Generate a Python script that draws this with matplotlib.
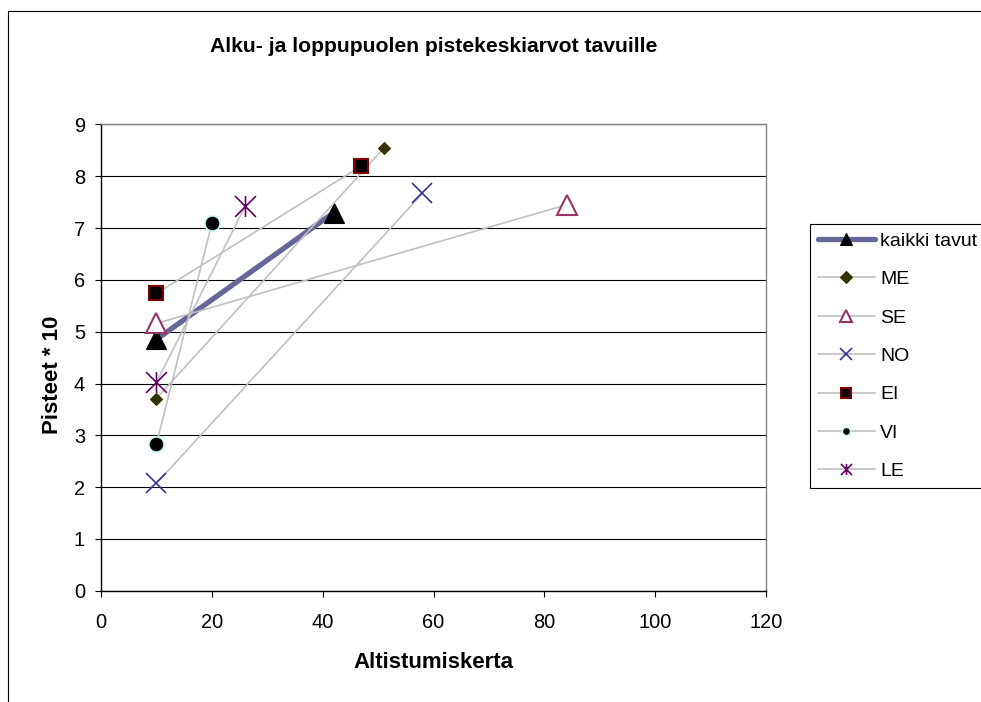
import matplotlib
matplotlib.use("Agg")
import matplotlib.pyplot as plt
from matplotlib.path import Path
from matplotlib.lines import Line2D
from matplotlib.patches import Rectangle

plt.rcParams['font.family'] = ['Liberation Sans', 'DejaVu Sans']

# ---- data ----
series = ["kaikki tavut", "ME", "SE", "NO", "EI", "VI", "LE"]
alku_x = [10, 10, 10, 10, 10, 10, 10]
alku_y = [4.85, 3.71, 5.16, 2.07, 5.74, 2.83, 4.02]
loppu_x = [42, 51, 84, 58, 47, 20, 26]
loppu_y = [7.30, 8.54, 7.45, 7.67, 8.20, 7.09, 7.42]
x_ticks = [0, 20, 40, 60, 80, 100, 120]
y_ticks = [0, 1, 2, 3, 4, 5, 6, 7, 8, 9]

title = "Alku- ja loppupuolen pistekeskiarvot tavuille"
xlabel = "Altistumiskerta"
ylabel = "Pisteet * 10"

# ---- styles ----
star = Path([(0, -1), (0, 1), (-1, -1), (1, 1), (-1, 1), (1, -1)],
            [Path.MOVETO, Path.LINETO, Path.MOVETO, Path.LINETO, Path.MOVETO, Path.LINETO])

styles = [
    dict(color="#666699", lw=3.8, marker="^", ms=15, mfc="black", mec="black", mew=0.8, lms=9),
    dict(color="#C0C0C0", lw=1.2, marker="D", ms=6.2, mfc="#333300", mec="#333300", mew=0.8, lms=6),
    dict(color="#C0C0C0", lw=1.2, marker="^", ms=15, mfc="white", mec="#993366", mew=1.5, lms=8),
    dict(color="#C0C0C0", lw=1.2, marker="x", ms=14, mfc="none", mec="#333399", mew=1.2, lms=8),
    dict(color="#C0C0C0", lw=1.2, marker="s", ms=10.5, mfc="black", mec="#800000", mew=1.5, lms=7),
    dict(color="#C0C0C0", lw=1.2, marker="o", ms=11, mfc="black", mec="#CCFFFF", mew=1.2, lms=6),
    dict(color="#C0C0C0", lw=1.2, marker=star, ms=15, mfc="none", mec="#660066", mew=1.2, lms=8),
]

W, H = 981, 702
fig = plt.figure(figsize=(W / 100, H / 100), dpi=100)
ax = fig.add_axes([101 / W, 1 - 590.7 / H, (766 - 101) / W, (590.7 - 124.5) / H])

handles = []
for i, name in enumerate(series):
    s = styles[i]
    ax.plot([alku_x[i], loppu_x[i]], [alku_y[i], loppu_y[i]], color=s["color"], lw=s["lw"],
            marker=s["marker"], ms=s["ms"], mfc=s["mfc"], mec=s["mec"], mew=s["mew"],
            solid_capstyle="butt", zorder=3 + i, clip_on=False)
    handles.append(Line2D([], [], color=s["color"], lw=s["lw"], marker=s["marker"],
                          ms=s["lms"], mfc=s["mfc"], mec=s["mec"], mew=s["mew"],
                          solid_capstyle="round"))

ax.set_xlim(0, 120)
ax.set_ylim(0, 9)
ax.set_xticks(x_ticks)
ax.set_yticks(y_ticks)
ax.set_xticklabels([str(v) for v in x_ticks])
ax.set_yticklabels([str(v) for v in y_ticks])
ax.tick_params(axis="x", direction="out", length=4, width=0.8, pad=12, labelsize=14.4, colors="black")
ax.tick_params(axis="y", direction="out", length=4.5, width=0.8, pad=7, labelsize=14.4, colors="black")

ax.grid(axis="y", color="black", lw=0.8, zorder=1)
ax.set_axisbelow(True)
for side in ["top", "right"]:
    ax.spines[side].set_color("#808080")
    ax.spines[side].set_linewidth(1.0)
for side in ["left", "bottom"]:
    ax.spines[side].set_color("black")
    ax.spines[side].set_linewidth(1.0)

fig.text(434 / W, 1 - 46 / H, title, ha="center", va="center", fontsize=15.2, fontweight="bold")
fig.text(433 / W, 1 - 662 / H, xlabel, ha="center", va="center", fontsize=16, fontweight="bold")
fig.text(52 / W, 1 - 375 / H, ylabel, ha="center", va="center", rotation=90, fontsize=16, fontweight="bold")

# chart area border (extends past the image on right and bottom)
fig.patches.append(Rectangle((7.5 / W, -0.2), 2.0, (1 - 10.5 / H) + 0.2, transform=fig.transFigure,
                             fill=False, edgecolor="black", lw=0.8))

leg = fig.legend(handles, series, loc="upper left", bbox_to_anchor=(810 / W, 1 - 224 / H),
                 bbox_transform=fig.transFigure, fontsize=14, frameon=True, fancybox=False,
                 edgecolor="black", framealpha=1, handlelength=2.9, handletextpad=0.3,
                 labelspacing=1.07, borderpad=0.42, borderaxespad=0)
leg.get_frame().set_linewidth(0.8)

fig.savefig("out.png", dpi=100)
